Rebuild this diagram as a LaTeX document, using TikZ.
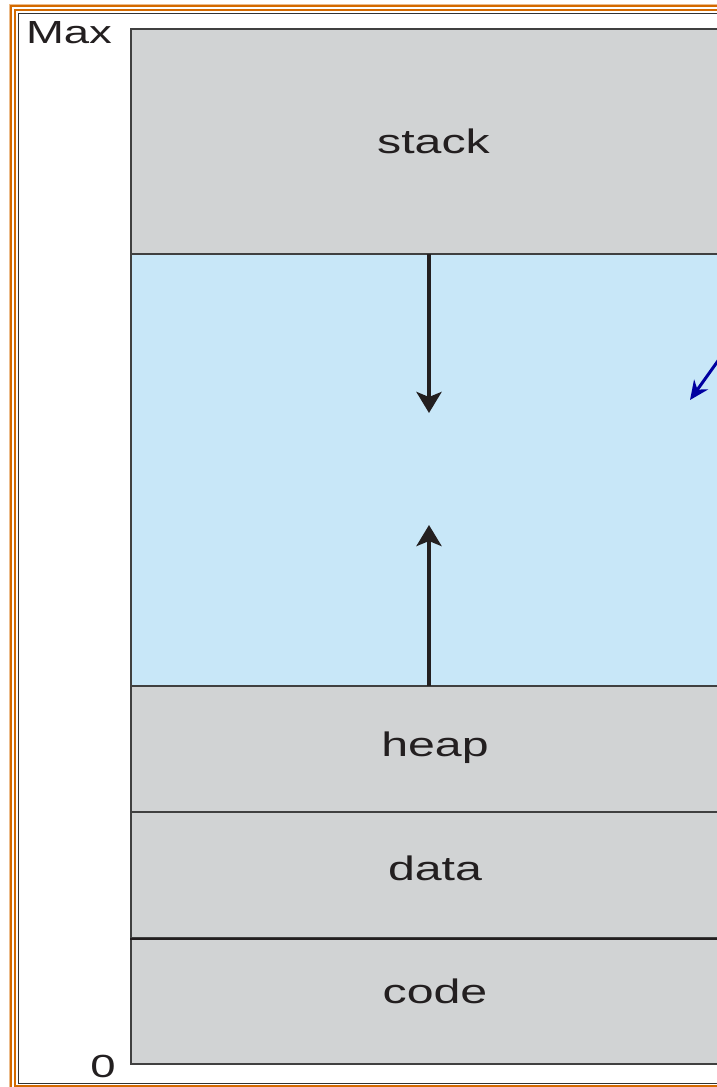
\documentclass[tikz,border=0pt]{standalone}
\usepackage{fontspec}
\setmainfont{Liberation Sans}
\usetikzlibrary{arrows.meta}
\definecolor{segGray}{RGB}{209,211,212}
\definecolor{freeBlue}{RGB}{200,231,248}
\definecolor{frameOrange}{RGB}{212,106,0}
\definecolor{textDark}{RGB}{35,31,32}
\definecolor{pointerBlue}{RGB}{0,0,160}
\newcommand{\stretchtext}[1]{\scalebox{1.42}[1]{#1}}
\tikzset{
	seg/.style={draw=black!75, line width=1.4pt, fill=segGray, minimum width=609pt, inner sep=0pt},
	lbl/.style={anchor=base, inner sep=0pt, text=textDark, font=\fontsize{34}{34}\selectfont},
	growarrow/.style={-{Stealth[length=21pt,width=25pt,inset=5pt]}, line width=4.5pt, draw=textDark},
}
\begin{document}
\begin{tikzpicture}[x=1pt,y=-1pt]
	\clip ( 0, 0 ) rectangle ( 717, 1087 );
	\fill [white] ( 0, 0 ) rectangle ( 717, 1087 );
	% frame
	\draw [frameOrange!45, line width=1.2pt] ( 9.5, 4.5 ) rectangle ( 780, 1092 );
	\draw [frameOrange, line width=2.6pt] ( 11, 6 ) rectangle ( 780, 1091 );
	\draw [frameOrange, line width=2.4pt] ( 15, 10 ) rectangle ( 780, 1086.5 );
	\draw [black!80, line width=1.8pt] ( 18.5, 13.5 ) rectangle ( 780, 1083.5 );
	% segments
	\node [seg, minimum height=225pt] (stack) at ( 435.5, 141.5 ) {};
	\node [seg, fill=freeBlue, minimum height=432pt] (free) at ( 435.5, 470 ) {};
	\node [seg, minimum height=126pt] (heap) at ( 435.5, 749 ) {};
	\node [seg, minimum height=126pt] (data) at ( 435.5, 875 ) {};
	\node [seg, minimum height=126pt] (code) at ( 435.5, 1001 ) {};
	\draw [textDark, line width=2.4pt] (data.south west) -- (data.south east);
	% labels
	\node [lbl] (stacklbl) at ( 433.5, 153 ) {\stretchtext{stack}};
	\node [lbl] (heaplbl) at ( 435, 756 ) {\stretchtext{heap}};
	\node [lbl] (datalbl) at ( 435, 880 ) {\stretchtext{data}};
	\node [lbl] (codelbl) at ( 435, 1003 ) {\stretchtext{code}};
	\node [lbl, font=\fontsize{32}{32}\selectfont] (maxlbl) at ( 69, 43 ) {\stretchtext{Max}};
	\node [lbl, font=\fontsize{32}{32}\selectfont] (zerolbl) at ( 103, 1077 ) {\stretchtext{0}};
	% growth arrows
	\coordinate (stackend) at ( 429, 254 );
	\coordinate (stacktip) at ( 429, 413 );
	\coordinate (heapend) at ( 429, 686 );
	\coordinate (heaptip) at ( 429, 525 );
	\draw [growarrow] (stackend) -- (stacktip);
	\draw [growarrow] (heapend) -- (heaptip);
	% pointer into free space
	\coordinate (pointerfrom) at ( 745, 323 );
	\coordinate (pointertip) at ( 690, 400 );
	\draw [pointerBlue, line width=3pt, -{Stealth[length=19pt,width=17pt]}] (pointerfrom) -- (pointertip);
\end{tikzpicture}
\end{document}
